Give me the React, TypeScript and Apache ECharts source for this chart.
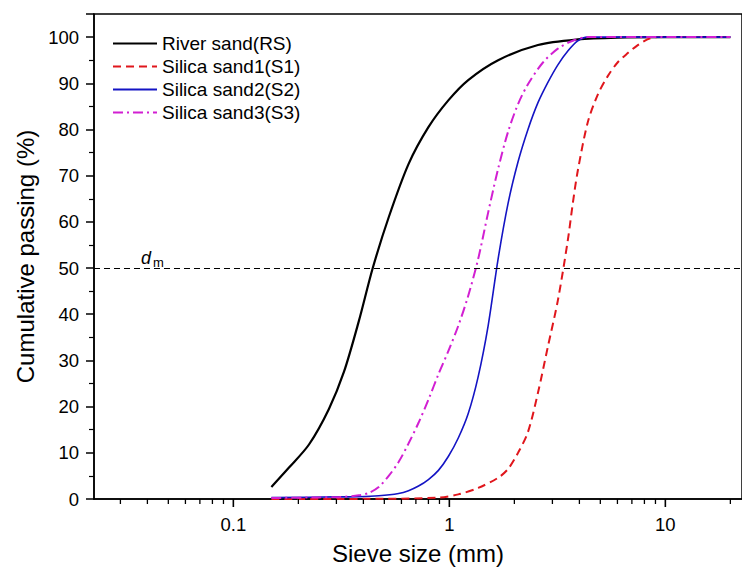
import React, { useEffect, useRef } from "react";
import * as echarts from "echarts";

const FONT = "'Liberation Sans', Arial, sans-serif";

const seriesNames = ["River sand(RS)", "Silica sand1(S1)", "Silica sand2(S2)", "Silica sand3(S3)"];

const riverSand: [number, number][] = [
  [0.15, 2.6], [0.181, 6.8], [0.224, 11.8], [0.277, 19.5], [0.325, 27.5], [0.381, 38.5],
  [0.442, 50], [0.524, 61], [0.647, 72.5], [0.8, 80.5], [0.989, 86.3], [1.223, 90.7],
  [1.682, 95.0], [2.572, 98.3], [3.93, 99.5], [6.01, 99.9], [10, 100], [20, 100],
];

const silicaSand1: [number, number][] = [
  [0.15, 0], [0.5, 0.05], [0.89, 0.3], [1.1, 1.0], [1.36, 2.4], [1.682, 4.6], [1.87, 6.5],
  [2.08, 10], [2.312, 14.5], [2.572, 23], [2.859, 33], [3.18, 43], [3.535, 56],
  [3.728, 64], [3.93, 71], [4.371, 81.5], [4.861, 87.5], [5.405, 91.5], [6.01, 94.5],
  [6.683, 96.5], [7.43, 98.2], [8.263, 99.5], [9.186, 100], [20, 100],
];

const silicaSand2: [number, number][] = [
  [0.15, 0.3], [0.3, 0.45], [0.381, 0.5], [0.471, 0.7], [0.582, 1.2], [0.647, 1.8],
  [0.72, 2.8], [0.8, 4.2], [0.89, 6.2], [0.989, 9.2], [1.1, 13.2], [1.223, 18.5],
  [1.36, 26.5], [1.512, 37.5], [1.682, 52], [1.87, 64], [2.08, 73], [2.312, 80],
  [2.572, 85.8], [2.859, 90.2], [3.18, 94.0], [3.535, 97.0], [3.93, 99.2], [4.371, 100],
  [20, 100],
];

const silicaSand3: [number, number][] = [
  [0.15, 0.2], [0.25, 0.35], [0.308, 0.4], [0.381, 0.8], [0.423, 1.3], [0.471, 2.6],
  [0.524, 5.0], [0.582, 8.0], [0.647, 12.0], [0.72, 16.5], [0.8, 21.5], [0.89, 27.0],
  [0.989, 32.0], [1.1, 37.5], [1.223, 44], [1.36, 52], [1.512, 62], [1.682, 71.5],
  [1.87, 79.5], [2.08, 85.5], [2.312, 89.8], [2.712, 94.5], [3.18, 97.5], [3.728, 99.2],
  [4.371, 100], [20, 100],
];

const xMajorTicks: number[] = [0.1, 1, 10];
const xMinorTicks: number[] = [
  0.03, 0.04, 0.05, 0.06, 0.07, 0.08, 0.09,
  0.2, 0.3, 0.4, 0.5, 0.6, 0.7, 0.8, 0.9,
  2, 3, 4, 5, 6, 7, 8, 9, 20,
];

const yTickLabels = ["0", "10", "20", "30", "40", "50", "60", "70", "80", "90", "100"];
const medianLevel = 50;

export default function App() {
  const ref = useRef<HTMLDivElement>(null);
  useEffect(() => {
    if (!ref.current) return;
    const chart = echarts.init(ref.current, undefined, { renderer: "svg" });
    const lineCommon = { type: "line", symbol: "none", showSymbol: false, smooth: 0.3 };
    const tickData = [
      ...xMajorTicks.map((v) => [v, 8]),
      ...xMinorTicks.map((v) => [v, 5]),
    ];
    const option: any = {
      animation: false,
      backgroundColor: "#fff",
      textStyle: { fontFamily: FONT },
      grid: {
        left: 94, top: 14, right: -3, bottom: 75,
        show: true, borderColor: "#000", borderWidth: 1.5, backgroundColor: "transparent",
      },
      legend: {
        data: seriesNames,
        orient: "vertical",
        left: 112, top: 34, padding: 0,
        itemWidth: 44, itemHeight: 14, itemGap: 4,
        itemStyle: { opacity: 0, borderWidth: 0 },
        textStyle: { fontFamily: FONT, fontSize: 19, color: "#000", lineHeight: 19 },
      },
      xAxis: {
        type: "log", logBase: 10,
        min: 0.02264, max: 22.64,
        name: "Sieve size (mm)", nameLocation: "middle", nameGap: 42,
        nameTextStyle: { fontFamily: FONT, fontSize: 24, color: "#000" },
        axisLine: { show: true, onZero: false, lineStyle: { color: "#000", width: 1.5 } },
        axisTick: { show: false },
        minorTick: { show: false },
        splitLine: { show: false },
        axisLabel: {
          fontFamily: FONT, fontSize: 18.5, color: "#000", margin: 16,
          showMinLabel: false, showMaxLabel: false,
        },
      },
      yAxis: {
        type: "value", min: 0, max: 105, interval: 10,
        name: "Cumulative passing (%)", nameLocation: "middle", nameGap: 51,
        nameTextStyle: { fontFamily: FONT, fontSize: 24, color: "#000" },
        axisLine: { show: true, lineStyle: { color: "#000", width: 1.5 } },
        axisTick: { show: true, length: 8, lineStyle: { color: "#000", width: 1.5 } },
        minorTick: { show: true, splitNumber: 2, length: 5, lineStyle: { color: "#000", width: 1.2 } },
        splitLine: { show: false },
        axisLabel: {
          fontFamily: FONT, fontSize: 18.5, color: "#000", margin: 15,
          showMaxLabel: false,
          formatter: (v: number) => (yTickLabels.indexOf(String(v)) >= 0 ? String(v) : ""),
        },
      },
      graphic: [
        {
          type: "group", left: 141, top: 249,
          children: [
            { type: "text", x: 0, y: 0, style: { text: "d", fontFamily: FONT, fontSize: 18, fontStyle: "italic", fill: "#000" } },
            { type: "text", x: 12, y: 7, style: { text: "m", fontFamily: FONT, fontSize: 13, fill: "#000" } },
          ],
        },
      ],
      series: [
        {
          ...lineCommon, name: seriesNames[0], data: riverSand,
          lineStyle: { color: "#000", width: 2.2 }, itemStyle: { color: "#000" },
          markLine: {
            silent: true, symbol: ["none", "none"], label: { show: false },
            lineStyle: { color: "#000", width: 1.2, type: [6, 4] },
            data: [{ yAxis: medianLevel }],
          },
        },
        {
          ...lineCommon, name: seriesNames[1], data: silicaSand1,
          lineStyle: { color: "#e0161c", width: 2, type: [8, 5] }, itemStyle: { color: "#e0161c" },
        },
        {
          ...lineCommon, name: seriesNames[2], data: silicaSand2,
          lineStyle: { color: "#1414c4", width: 1.6 }, itemStyle: { color: "#1414c4" },
        },
        {
          ...lineCommon, name: seriesNames[3], data: silicaSand3,
          lineStyle: { color: "#d21fd2", width: 2, type: [10, 4, 2, 4] }, itemStyle: { color: "#d21fd2" },
        },
        {
          type: "custom", name: "xTicks", silent: true, clip: false, z: 5,
          data: tickData,
          renderItem: (params: any, api: any) => {
            const p = api.coord([api.value(0), 0]);
            const len = api.value(1);
            return {
              type: "line",
              shape: { x1: p[0], y1: p[1], x2: p[0], y2: p[1] + len },
              style: { stroke: "#000", lineWidth: len > 6 ? 1.6 : 1.3 },
            };
          },
        },
      ],
    };
    chart.setOption(option);
    return () => chart.dispose();
  }, []);
  return <div ref={ref} style={{ position: "absolute", left: 0, top: 0, width: 742, height: 574 }} />;
}
